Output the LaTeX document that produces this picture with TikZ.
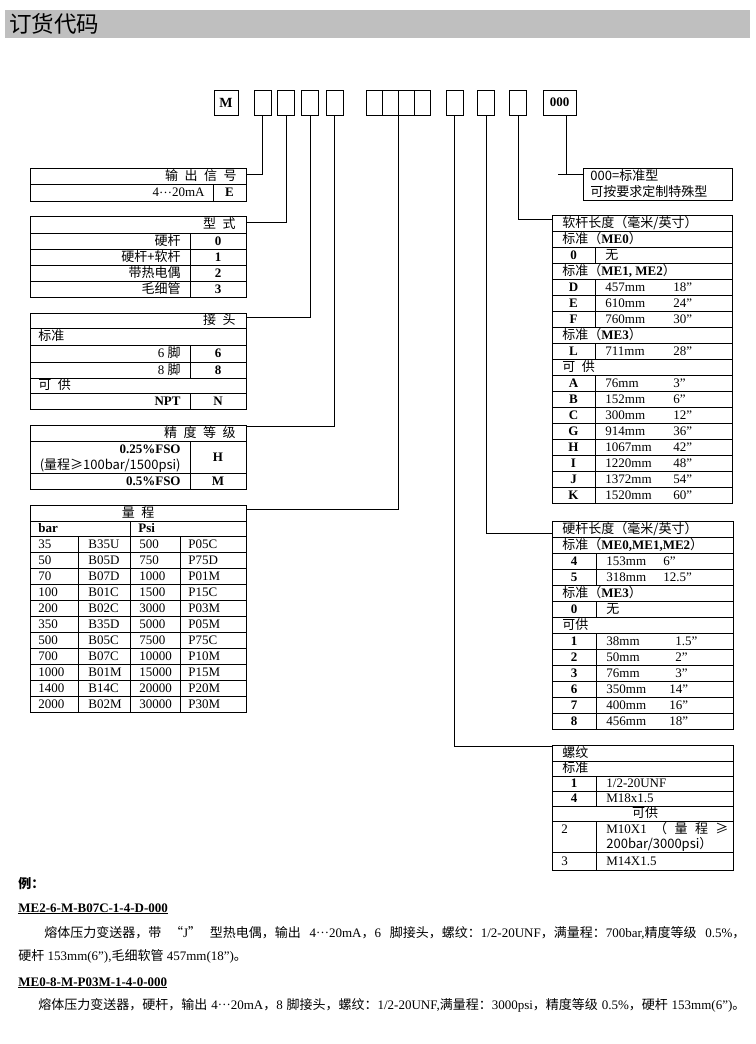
\documentclass[tikz,border=0pt]{standalone}
\usepackage{fontspec}
\setmainfont{Liberation Serif}
\newfontfamily\zhfont{Noto Sans CJK SC}
\newcommand{\zh}[1]{{\zhfont #1}}
\newcommand{\zgap}{\hspace{0.5em}}
\newcommand{\zdots}{\raisebox{3.2pt}{…}}
\tikzset{codebox/.style={draw, minimum width=17pt, minimum height=25pt, inner sep=0pt, font=\bfseries\fontsize{14}{14}\selectfont},
cell/.style={inner sep=0pt, text height=10.5pt, text depth=2.5pt},
lcell/.style={cell, anchor=west},
rcell/.style={cell, anchor=east}}

\begin{document}
\begin{tikzpicture}[x=1pt,y=-1pt,line width=0.8pt,font=\fontsize{13}{15}\selectfont]
\useasboundingbox (0,0) rectangle (755,1044);

% header
\fill[gray!50] (5,10) rectangle (750,38);
\node[anchor=west, inner sep=0pt, font=\zhfont\fontsize{22.5}{22.5}\selectfont] (title) at (9,24) {订货代码};

% code boxes
\node[codebox, minimum width=24pt] (m) at (226,102.5) {M};
\node[codebox] (b1) at (262.5,102.5) {};
\node[codebox] (b2) at (286,102.5) {};
\node[codebox] (b3) at (310,102.5) {};
\node[codebox] (b4) at (334.5,102.5) {};
\foreach \i/\x in {1/374,2/390,3/406,4/422}
    \node[codebox, minimum width=16pt] (g\i) at (\x,102.5) {};
\node[codebox] (b5) at (454.5,102.5) {};
\node[codebox] (b6) at (486,102.5) {};
\node[codebox] (b7) at (518,102.5) {};
\node[codebox, minimum width=33pt, font=\bfseries\fontsize{13}{13}\selectfont] (b000) at (559.5,102.5) {000};

\coordinate (sig) at (246,174);
\coordinate (typ) at (246,222);
\coordinate (con) at (246,317);
\coordinate (acc) at (246,426);
\coordinate (rng) at (246,509);
\coordinate (thr) at (552,746);
\coordinate (hard) at (552,533);
\coordinate (soft) at (552,219);
\coordinate (std) at (583,174);
\coordinate (stdl) at (558,174);

\draw (b1.south) |- (sig);
\draw (b2.south) |- (typ);
\draw (b3.south) |- (con);
\draw (b4.south) |- (acc);
\draw (g2.south east) |- (rng);
\draw (b5.south) |- (thr);
\draw (b6.south) |- (hard);
\draw (b7.south) |- (soft);
\draw ([xshift=7pt]b000.south) -- ([xshift=7pt]b000.south |- std);
\draw (stdl) -- (std);

% output signal
\draw (30,168) rectangle (246,201);
\draw (30,184) -- (246,184);
\draw (213,184) -- (213,201);
\node[rcell] (sigt) at (237,176) {\zh{输\zgap 出\zgap 信\zgap 号}};
\node[rcell] (sigv) at (205,192.5) {4\zdots20mA};
\node[cell] (sigc) at (229.5,192.5) {\textbf{E}};

% type
\draw (30,216) rectangle (246,297);
\foreach \y in {233,249,265,281}
    \draw (30,\y) -- (246,\y);
\draw (190,233) -- (190,297);
\node[rcell] (typt) at (236,224.5) {\zh{型\zgap 式}};
\foreach \txt/\code [count=\i] in {硬杆/0, 硬杆+软杆/1, 带热电偶/2, 毛细管/3}{
    \node[rcell] (typ\i) at (181,225+16*\i) {\zh{\txt}};
    \node[cell] (typc\i) at (218,225+16*\i) {\textbf{\code}};
}

% connector
\draw (30,313) rectangle (246,409);
\foreach \y in {328,345,362,378,393}
    \draw (30,\y) -- (246,\y);
\draw (190,345) -- (190,378);
\draw (190,393) -- (190,409);
\node[rcell] (cont) at (236,320.5) {\zh{接\zgap 头}};
\node[lcell] (cons) at (38,336.5) {\zh{标准}};
\node[rcell] (con6) at (181,353.5) {6 \zh{脚}};
\node[cell] (conc6) at (218,353.5) {\textbf{6}};
\node[rcell] (con8) at (181,370) {8 \zh{脚}};
\node[cell] (conc8) at (218,370) {\textbf{8}};
\node[lcell] (cono) at (38,385.5) {\zh{可\zgap 供}};
\node[rcell] (conn) at (181,401) {\textbf{NPT}};
\node[cell] (concn) at (218,401) {\textbf{N}};

% accuracy
\draw (30,425) rectangle (246,489);
\draw (30,441) -- (246,441);
\draw (30,473) -- (246,473);
\draw (190,441) -- (190,489);
\node[rcell] (acct) at (236,433) {\zh{精\zgap 度\zgap 等\zgap 级}};
\node[rcell] (acch1) at (181,449) {\textbf{0.25\%FSO}};
\node[rcell] (acch2) at (181,465) {\zh{(量程≥100bar/1500psi)}};
\node[cell] (acchc) at (218,457) {\textbf{H}};
\node[rcell] (accm) at (181,481) {\textbf{0.5\%FSO}};
\node[cell] (accmc) at (218,481) {\textbf{M}};

% range
\draw (30,505) rectangle (246,712);
\draw (30,521) -- (246,521);
\foreach \y in {536,552,...,696}
    \draw (30,\y) -- (246,\y);
\draw (130,521) -- (130,712);
\draw (78,536) -- (78,712);
\draw (180,536) -- (180,712);
\node[cell] (rngt) at (138,513) {\zh{量\zgap 程}};
\node[lcell] (rngb) at (38,528.5) {\textbf{bar}};
\node[lcell] (rngp) at (138,528.5) {\textbf{Psi}};
\foreach \pa/\ba/\ps/\pp [count=\i] in {35/B35U/500/P05C, 50/B05D/750/P75D, 70/B07D/1000/P01M,
    100/B01C/1500/P15C, 200/B02C/3000/P03M, 350/B35D/5000/P05M, 500/B05C/7500/P75C,
    700/B07C/10000/P10M, 1000/B01M/15000/P15M, 1400/B14C/20000/P20M, 2000/B02M/30000/P30M}{
    \node[lcell] (rb\i) at (38,528+16*\i) {\pa};
    \node[lcell] (rbc\i) at (88,528+16*\i) {\ba};
    \node[lcell] (rp\i) at (139,528+16*\i) {\ps};
    \node[lcell] (rpc\i) at (188,528+16*\i) {\pp};
}

% standard
\draw (583,168) rectangle (732,200);
\node[lcell] (std1) at (590,176) {\zh{000=标准型}};
\node[lcell] (std2) at (590,192) {\zh{可按要求定制特殊型}};

% flexible length
\draw (552,215) rectangle (732,503);
\foreach \y in {231,247,...,487}
    \draw (552,\y) -- (732,\y);
\foreach \a/\b in {247/263, 279/327, 343/359, 375/503}
    \draw (595,\a) -- (595,\b);
\node[lcell] (softt) at (562,223) {\zh{软杆长度（毫米/英寸）}};
\node[lcell] (soft0) at (562,239) {\zh{标准（}\textbf{ME0}\zh{）}};
\node[cell] (softc0) at (573.5,255) {\textbf{0}};
\node[lcell] (softn0) at (605,255) {\zh{无}};
\node[lcell] (soft12) at (562,271) {\zh{标准（}\textbf{ME1, ME2}\zh{）}};
\node[lcell] (soft3) at (562,335) {\zh{标准（}\textbf{ME3}\zh{）}};
\node[lcell] (softo) at (562,367) {\zh{可\zgap 供}};
\foreach \code/\len/\inch/\y in {D/457mm/18/287, E/610mm/24/303, F/760mm/30/319, L/711mm/28/351,
    A/76mm/3/383, B/152mm/6/399, C/300mm/12/415, G/914mm/36/431, H/1067mm/42/447,
    I/1220mm/48/463, J/1372mm/54/479, K/1520mm/60/495}{
    \node[cell] (sc\code) at (573.5,\y) {\textbf{\code}};
    \node[lcell] (sl\code) at (605,\y) {\len};
    \node[lcell] (si\code) at (673,\y) {\inch”};
}

% rigid length
\draw (552,521) rectangle (733,729);
\foreach \y in {537,553,...,713}
    \draw (552,\y) -- (733,\y);
\foreach \a/\b in {553/585, 601/617, 633/729}
    \draw (596,\a) -- (596,\b);
\node[lcell] (hardt) at (562,529) {\zh{硬杆长度（毫米/英寸）}};
\node[lcell] (hard012) at (562,545) {\zh{标准（}\textbf{ME0,ME1,ME2}\zh{）}};
\node[lcell] (hard3) at (562,593) {\zh{标准（}\textbf{ME3}\zh{）}};
\node[cell] (hardc0) at (574,609) {\textbf{0}};
\node[lcell] (hardn0) at (606,609) {\zh{无}};
\node[lcell] (hardo) at (562,625) {\zh{可供}};
\foreach \code/\len/\inch/\ix/\y in {4/153mm/6/663/561, 5/318mm/12.5/663/577, 1/38mm/1.5/675/641,
    2/50mm/2/675/657, 3/76mm/3/675/673, 6/350mm/14/669/689, 7/400mm/16/669/705, 8/456mm/18/669/721}{
    \node[cell] (hc\code) at (574,\y) {\textbf{\code}};
    \node[lcell] (hl\code) at (606,\y) {\len};
    \node[lcell] (hi\code) at (\ix,\y) {\inch”};
}

% thread
\draw (552,745) rectangle (733,870);
\foreach \y in {761,776,791,806,821,852}
    \draw (552,\y) -- (733,\y);
\draw (596,776) -- (596,806);
\draw (596,821) -- (596,870);
\node[lcell] (thrt) at (562,753) {\zh{螺纹}};
\node[lcell] (thrs) at (562,768.5) {\zh{标准}};
\node[cell] (thrc1) at (574,783.5) {\textbf{1}};
\node[lcell] (thr1) at (606,783.5) {1/2-20UNF};
\node[cell] (thrc4) at (574,798.5) {\textbf{4}};
\node[lcell] (thr4) at (606,798.5) {M18x1.5};
\node[cell] (thro) at (645,813.5) {\zh{可供}};
\node[lcell] (thrc2) at (561,829) {2};
\node[lcell] (thr2a) at (606,829) {\makebox[122pt][s]{M10X1\hfill\zh{（}\hfill\zh{量}\hfill\zh{程}\hfill\zh{≥}}};
\node[lcell] (thr2b) at (606,844) {\zh{200bar/3000psi）}};
\node[lcell] (thrc3) at (561,861) {3};
\node[lcell] (thr3) at (606,861) {M14X1.5};

% examples
\node[lcell] (ex) at (18,884) {\textbf{\zh{例：}}};
\node[lcell] (ex1) at (18,908) {\underline{\textbf{ME2-6-M-B07C-1-4-D-000}}};
\node[lcell] (ex1a) at (44,933) {\makebox[701pt][s]{\zh{熔体压力变送器，带} \zh{“}J\zh{”} \zh{型热电偶，输出} 4\zdots20mA\zh{，}6 \zh{脚接头，螺纹：}1/2-20UNF\zh{，满量程：}700bar,\zh{精度等级} 0.5\%\zh{，}}};
\node[lcell] (ex1b) at (18,956) {\zh{硬杆} 153mm(6”),\zh{毛细软管} 457mm(18”)\zh{。}};
\node[lcell] (ex2) at (18,982) {\underline{\textbf{ME0-8-M-P03M-1-4-0-000}}};
\node[lcell] (ex2a) at (38,1005) {\makebox[707pt][s]{\zh{熔体压力变送器，硬杆，输出} 4\zdots20mA\zh{，}8 \zh{脚接头，螺纹：}1/2-20UNF,\zh{满量程：}3000psi\zh{，精度等级} 0.5\%\zh{，硬杆} 153mm(6”)\zh{。}}};

\end{tikzpicture}
\end{document}
